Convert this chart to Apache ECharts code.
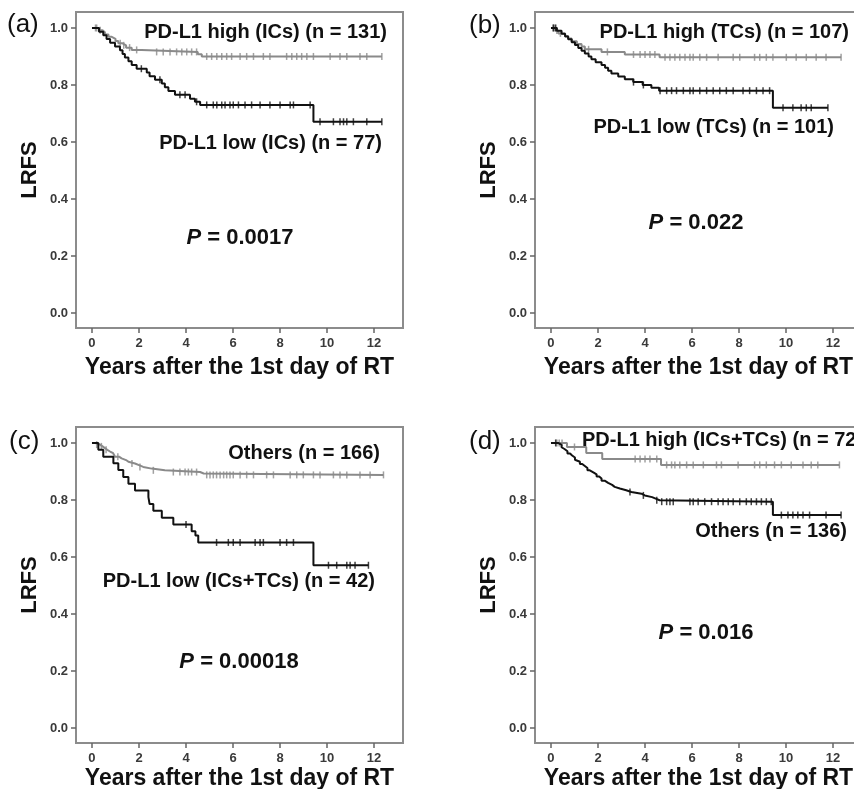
<!DOCTYPE html>
<html>
<head>
<meta charset="utf-8">
<script src="https://cdn.jsdelivr.net/npm/echarts@6/dist/echarts.min.js"></script>
<style>
  html, body { margin: 0; padding: 0; background: #fff; }
  #chart { width: 854px; height: 789px; }
</style>
</head>
<body>
<div id="chart"></div>
<script>
// tick values
const xTicks = [0, 2, 4, 6, 8, 10, 12]
const yTicks = [0, 0.2, 0.4, 0.6, 0.8, 1.0]

// Kaplan-Meier steps: [years, LRFS after the drop]; censored times in years
const aHighSteps = [[0.3, 0.992], [0.45, 0.985], [0.55, 0.977], [0.7, 0.969], [0.84, 0.962], [1.0, 0.954], [1.12, 0.946], [1.3, 0.939], [1.45, 0.931], [1.69, 0.923], [2.11, 0.916], [4.5, 0.908], [4.67, 0.900]]
const aHighCensor = [0.15, 0.2, 0.35, 1.2, 1.35, 1.6, 1.9, 2.75, 3.03, 3.32, 3.6, 3.82, 4.03, 4.24, 4.45, 4.88, 5.09, 5.31, 5.52, 5.73, 5.94, 6.3, 6.58, 6.87, 7.29, 7.57, 8.28, 8.5, 8.71, 8.92, 9.14, 9.42, 10.13, 10.55, 10.84, 11.4, 11.69, 12.33]
const aLowSteps = [[0.3, 0.987], [0.48, 0.974], [0.62, 0.961], [0.77, 0.948], [0.98, 0.935], [1.19, 0.922], [1.3, 0.909], [1.4, 0.896], [1.55, 0.883], [1.69, 0.87], [1.9, 0.857], [2.33, 0.844], [2.45, 0.831], [2.68, 0.818], [2.97, 0.805], [3.1, 0.792], [3.25, 0.779], [3.53, 0.766], [4.17, 0.752], [4.38, 0.741], [4.6, 0.73], [9.42, 0.671]]
const aLowCensor = [2.1, 2.89, 3.74, 3.96, 4.45, 4.88, 5.16, 5.31, 5.52, 5.66, 5.87, 6.01, 6.23, 6.51, 6.79, 7.15, 7.57, 8.0, 8.43, 8.57, 9.28, 9.7, 10.27, 10.55, 10.7, 10.84, 11.12, 11.69, 12.33]

const bHighSteps = [[0.2, 0.991], [0.31, 0.981], [0.6, 0.972], [0.73, 0.963], [0.88, 0.953], [1.1, 0.944], [1.3, 0.935], [1.44, 0.925], [2.15, 0.916], [3.14, 0.907], [4.62, 0.897]]
const bHighCensor = [0.1, 0.15, 0.25, 0.4, 1.6, 2.4, 3.51, 3.79, 4.0, 4.21, 4.42, 4.85, 5.06, 5.27, 5.48, 5.7, 5.91, 6.05, 6.33, 6.62, 7.11, 7.75, 8.03, 8.66, 8.88, 9.16, 9.44, 10.01, 10.43, 10.86, 11.28, 11.7, 12.34]
const bLowSteps = [[0.25, 0.99], [0.45, 0.98], [0.6, 0.97], [0.73, 0.96], [0.88, 0.95], [1.02, 0.94], [1.16, 0.93], [1.3, 0.92], [1.44, 0.91], [1.6, 0.9], [1.72, 0.89], [1.9, 0.88], [2.15, 0.87], [2.3, 0.86], [2.43, 0.85], [2.57, 0.84], [2.86, 0.83], [3.14, 0.82], [3.5, 0.81], [3.9, 0.8], [4.27, 0.79], [4.6, 0.78], [9.44, 0.72]]
const bLowCensor = [0.1, 0.2, 3.51, 3.93, 4.64, 4.92, 5.13, 5.34, 5.63, 5.91, 6.05, 6.33, 6.62, 6.9, 7.18, 7.46, 7.75, 8.17, 8.45, 8.74, 9.02, 9.3, 9.87, 10.29, 10.64, 10.86, 11.07, 11.78]

const cHighSteps = [[0.15, 0.994], [0.34, 0.988], [0.45, 0.982], [0.55, 0.976], [0.65, 0.97], [0.77, 0.964], [0.9, 0.958], [0.98, 0.952], [1.15, 0.946], [1.26, 0.94], [1.45, 0.934], [1.55, 0.928], [1.83, 0.922], [2.0, 0.916], [2.18, 0.91], [2.54, 0.904], [3.1, 0.898], [4.6, 0.893], [4.75, 0.888]]
const cHighCensor = [0.2, 0.4, 0.6, 1.1, 1.7, 2.04, 2.61, 3.46, 3.74, 3.96, 4.1, 4.24, 4.45, 4.88, 5.02, 5.16, 5.3, 5.45, 5.6, 5.73, 5.87, 6.01, 6.3, 6.58, 6.87, 7.43, 7.72, 8.43, 8.71, 8.99, 9.42, 9.7, 10.27, 10.55, 10.84, 11.4, 11.83, 12.4]
const cLowSteps = [[0.27, 0.976], [0.48, 0.952], [0.91, 0.929], [1.12, 0.905], [1.33, 0.881], [1.55, 0.857], [1.83, 0.833], [2.4, 0.81], [2.45, 0.786], [2.61, 0.762], [2.97, 0.738], [3.46, 0.714], [4.24, 0.69], [4.4, 0.675], [4.52, 0.651], [9.42, 0.571]]
const cLowCensor = [4.0, 5.3, 5.8, 6.01, 6.3, 6.94, 7.15, 7.29, 8.0, 8.28, 8.57, 10.06, 10.41, 10.84, 10.98, 11.19, 11.76]

const dHighSteps = [[0.68, 0.986], [1.5, 0.965], [2.18, 0.944], [4.68, 0.923]]
const dHighCensor = [0.25, 0.35, 0.47, 1.0, 3.58, 3.79, 4.0, 4.21, 4.5, 4.92, 5.13, 5.27, 5.48, 5.77, 6.05, 6.48, 7.04, 7.25, 7.96, 8.66, 8.88, 9.16, 9.51, 9.8, 10.22, 10.72, 11.07, 11.35, 12.27]
const dLowSteps = [[0.3, 0.993], [0.45, 0.985], [0.52, 0.978], [0.59, 0.971], [0.7, 0.963], [0.81, 0.956], [0.9, 0.949], [1.02, 0.941], [1.1, 0.934], [1.23, 0.926], [1.33, 0.919], [1.44, 0.912], [1.55, 0.904], [1.65, 0.897], [1.8, 0.89], [1.94, 0.882], [2.05, 0.875], [2.15, 0.867], [2.3, 0.86], [2.43, 0.853], [2.6, 0.846], [2.71, 0.84], [2.93, 0.834], [3.2, 0.828], [3.42, 0.822], [3.85, 0.816], [3.99, 0.81], [4.3, 0.804], [4.48, 0.799], [4.62, 0.794], [9.44, 0.747]]
const dLowCensor = [0.2, 3.36, 3.93, 4.5, 4.71, 4.92, 5.06, 5.2, 5.91, 6.05, 6.26, 6.54, 6.83, 7.11, 7.32, 7.54, 7.75, 8.03, 8.31, 8.52, 8.74, 8.95, 9.16, 9.37, 9.8, 10.08, 10.29, 10.5, 10.72, 11.0, 11.7, 12.34]

// texts
const panelTags = ['(a)', '(b)', '(c)', '(d)']
const highLabels = ['PD-L1 high (ICs) (n = 131)', 'PD-L1 high (TCs) (n = 107)', 'Others (n = 166)', 'PD-L1 high (ICs+TCs) (n = 72)']
const lowLabels = ['PD-L1 low (ICs) (n = 77)', 'PD-L1 low (TCs) (n = 101)', 'PD-L1 low (ICs+TCs) (n = 42)', 'Others (n = 136)']
const pValues = ['0.0017', '0.022', '0.00018', '0.016']
const xTitle = 'Years after the 1st day of RT'
const yTitle = 'LRFS'

const grayColor = '#8a8a8a'
const blackColor = '#111'
const font = 'Arial, "Liberation Sans", sans-serif'

// layout per panel (pixels)
const panels = [
  { grid: [76, 12], steps: [aHighSteps, aLowSteps], censor: [aHighCensor, aLowCensor], gap: 28,
    tag: [7, 25], high: [387, 32, 'right'], low: [382, 143, 'right'], p: [240, 238] },
  { grid: [535, 12], steps: [bHighSteps, bLowSteps], censor: [bHighCensor, bLowCensor], gap: 28,
    tag: [469, 26], high: [849, 32, 'right'], low: [834, 127, 'right'], p: [696, 223] },
  { grid: [76, 427], steps: [cHighSteps, cLowSteps], censor: [cHighCensor, cLowCensor], gap: 24,
    tag: [9, 442], high: [380, 453, 'right'], low: [375, 581, 'right'], p: [239, 662] },
  { grid: [535, 427], steps: [dHighSteps, dLowSteps], censor: [dHighCensor, dLowCensor], gap: 24,
    tag: [469, 442], high: [582, 440, 'left'], low: [847, 531, 'right'], p: [706, 633] }
]

function levelAt(steps, t) {
  let s = 1
  steps.forEach(p => { if (p[0] <= t) s = p[1] })
  return s
}

function curve(steps, censor) {
  const last = Math.max(...censor)
  return [[0, 1]].concat(steps, [[last, steps[steps.length - 1][1]]])
}

const chart = echarts.init(document.getElementById('chart'))
const grids = []
const xAxes = []
const yAxes = []
const series = []
const graphics = []

panels.forEach((pn, i) => {
  grids.push({
    left: pn.grid[0], top: pn.grid[1], width: 327, height: 316,
    outerBoundsMode: 'none', containLabel: false,
    show: true, borderColor: '#8c8c8c', borderWidth: 2
  })
  xAxes.push({
    gridIndex: i, type: 'value', min: -0.68, max: 13.23,
    splitLine: { show: false },
    axisLine: { show: false, onZero: false },
    axisTick: { show: true, length: 5, customValues: xTicks, lineStyle: { color: '#666', width: 1.5 } },
    axisLabel: { customValues: xTicks, margin: 9, fontSize: 13, fontWeight: 'bold', color: '#3a3a3a', fontFamily: font },
    name: xTitle, nameLocation: 'middle', nameGap: pn.gap, nameMoveOverlap: false,
    nameTextStyle: { fontSize: 23, fontWeight: 'bold', color: '#111', fontFamily: font }
  })
  yAxes.push({
    gridIndex: i, type: 'value', min: -0.0526, max: 1.056,
    splitLine: { show: false },
    axisLine: { show: false, onZero: false },
    axisTick: { show: true, length: 5, customValues: yTicks, lineStyle: { color: '#666', width: 1.5 } },
    axisLabel: { customValues: yTicks, margin: 8, fontSize: 13, fontWeight: 'bold', color: '#3a3a3a', fontFamily: font,
      formatter: v => v.toFixed(1) },
    name: yTitle, nameLocation: 'middle', nameGap: 35, nameMoveOverlap: false,
    nameTextStyle: { fontSize: 22, fontWeight: 'bold', color: '#111', fontFamily: font }
  })

  const colors = [grayColor, blackColor]
  pn.steps.forEach((steps, k) => {
    const censor = pn.censor[k]
    series.push({
      type: 'line', xAxisIndex: i, yAxisIndex: i, step: 'end',
      showSymbol: false, silent: true, z: 3 + k,
      lineStyle: { color: colors[k], width: 2 },
      data: curve(steps, censor)
    })
    series.push({
      type: 'scatter', xAxisIndex: i, yAxisIndex: i, silent: true, z: 3 + k,
      symbol: 'rect', symbolSize: [1.5, 7],
      itemStyle: { color: colors[k] },
      data: censor.map(t => [t, levelAt(steps, t)])
    })
  })

  graphics.push({
    type: 'text', x: pn.tag[0], y: pn.tag[1],
    style: { text: panelTags[i], font: '26px ' + font, fill: '#111', verticalAlign: 'middle' }
  })
  ;[[pn.high, highLabels[i]], [pn.low, lowLabels[i]]].forEach(([pos, txt]) => {
    graphics.push({
      type: 'text', x: pos[0], y: pos[1],
      style: { text: txt, font: 'bold 20px ' + font, fill: '#111', align: pos[2], verticalAlign: 'middle' }
    })
  })
  graphics.push({
    type: 'text', x: pn.p[0], y: pn.p[1],
    style: {
      text: '{i|P} = ' + pValues[i], align: 'center', verticalAlign: 'middle',
      font: 'bold 22px ' + font, fill: '#111',
      rich: { i: { fontStyle: 'italic', fontWeight: 'bold', fontSize: 22, fontFamily: font, fill: '#111' } }
    }
  })
})

chart.setOption({
  backgroundColor: '#fff',
  animation: false,
  grid: grids,
  xAxis: xAxes,
  yAxis: yAxes,
  series: series,
  graphic: graphics
})
</script>
</body>
</html>
